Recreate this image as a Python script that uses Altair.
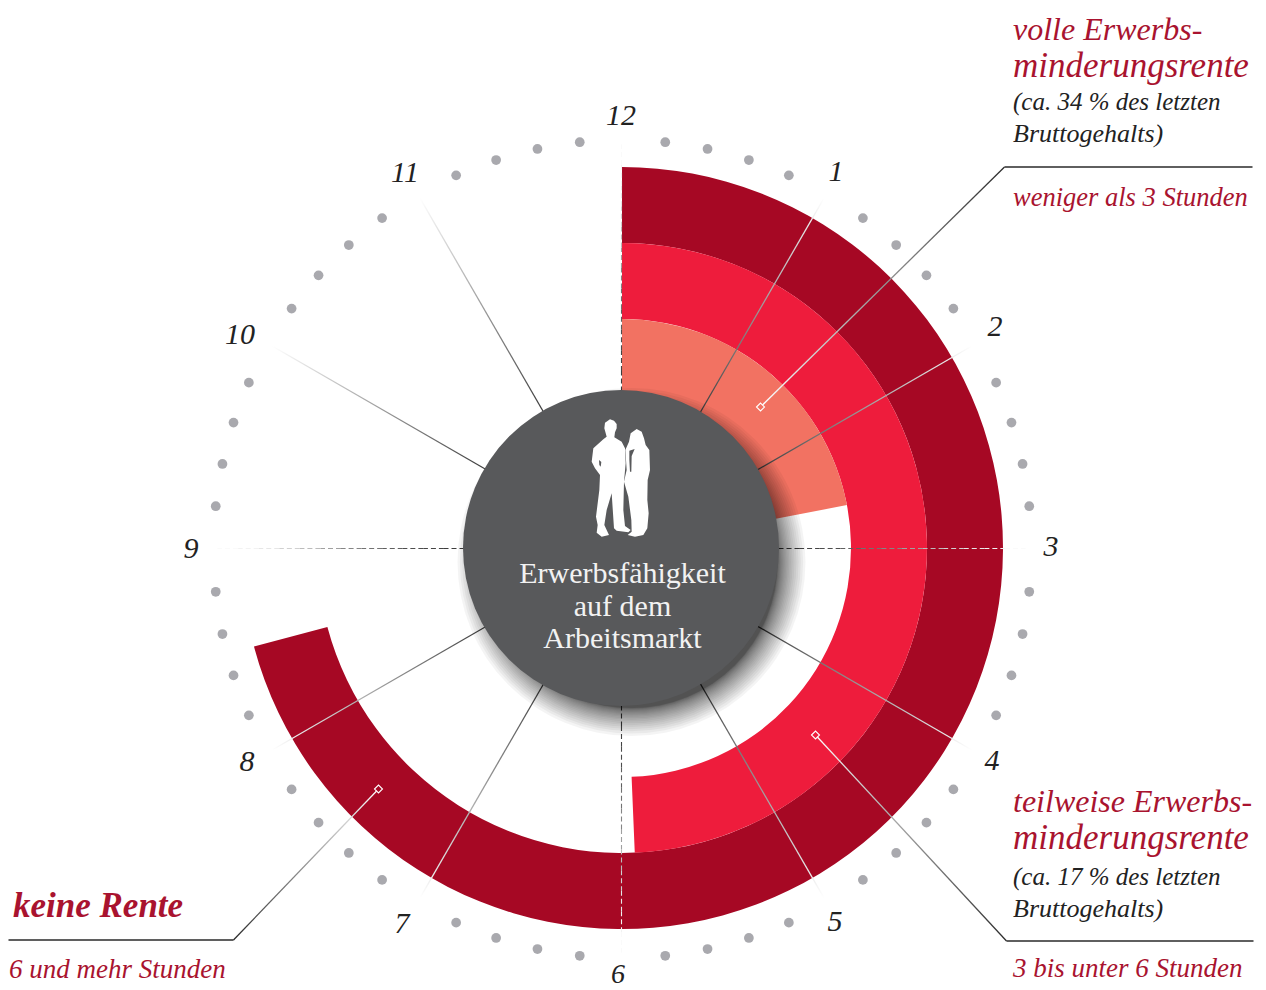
import math
import altair as alt
import pandas as pd

W, H = 1250, 982
CX, CY = 613.5, 540.0
xs = alt.Scale(domain=[-CX, W - CX], nice=False, zero=False)
ys = alt.Scale(domain=[-(H - CY), CY], nice=False, zero=False)
ts = alt.Scale(domain=[0, 12], range=[0, 2 * math.pi])
rs = alt.Scale(domain=[0, 500], range=[0, 500], nice=False)

FONT = "Liberation Serif"
DARK_RED, MID_RED, SALMON = "#a60824", "#ee1c3c", "#f27262"
HUB = "#58595b"
INK = "#222222"
TITLE_RED = "#a9132f"

# rings: hours worked on the dial
ring_end = [8.5, 5.92, 2.64]
ring_outer = [381, 305, 229]
ring_inner = [305, 229, 150]
ring_color = [DARK_RED, MID_RED, SALMON]

hours = [12, 1, 2, 3, 4, 5, 6, 7, 8, 9, 10, 11]
hour_page_x = [621, 836, 995, 1051, 992, 835, 618, 402, 247, 191, 240, 405]
hour_page_y = [116, 172, 327, 547, 761, 922, 975, 924, 762, 549, 335, 173]
hour_size = [30, 30, 30, 30, 30, 30, 28, 30, 30, 30, 30, 30]
minutes = [m for m in range(60) if m % 5]


def pol(hour, r):
    a = hour / 12 * 2 * math.pi
    return r * math.sin(a), r * math.cos(a)


def X(f="x"):
    return alt.X(f"{f}:Q", scale=xs, axis=None)


def Y(f="y"):
    return alt.Y(f"{f}:Q", scale=ys, axis=None)


layers = []

# rings
rings = pd.DataFrame({"s": [0] * 3, "e": ring_end, "r": ring_outer, "r2": ring_inner,
                      "c": ring_color, "x": [0.5] * 3, "y": [0] * 3})
layers.append(alt.Chart(rings).mark_arc(strokeWidth=0).encode(
    x=X(), y=Y(),
    theta=alt.Theta("s:Q", scale=ts, stack=None), theta2="e:Q",
    radius=alt.Radius("r:Q", scale=rs), radius2="r2:Q",
    color=alt.Color("c:N", scale=None)))

# dial dots
dot_xy = [pol(m / 5, 409) for m in minutes]
dots = pd.DataFrame({"x": [p[0] + 1 for p in dot_xy], "y": [p[1] - 1 for p in dot_xy]})
layers.append(alt.Chart(dots).mark_circle(size=95, color="#a9a9ae", opacity=1).encode(x=X(), y=Y()))

# diagonal spokes with a fade from dark to white
R0, R1 = 157, 404
for h in [1, 2, 4, 5, 7, 8, 10, 11]:
    ax, ay = pol(h, R0)
    bx, by = pol(h, R1)
    grad = alt.LinearGradient(
        gradient="linear",
        stops=[alt.GradientStop(color="#3c3c3c", offset=0), alt.GradientStop(color="#ffffff", offset=1)],
        x1=0 if bx > ax else 1, x2=1 if bx > ax else 0,
        y1=0 if by < ay else 1, y2=1 if by < ay else 0)
    df = pd.DataFrame({"x": [ax + .5], "y": [ay], "x2": [bx + .5], "y2": [by]})
    layers.append(alt.Chart(df).mark_rule(stroke=grad, strokeWidth=1.3).encode(
        x=X(), y=Y(), x2="x2:Q", y2="y2:Q"))

# dashed spokes on the quarter hours, in steps of fading grey
steps = ["#3c3c3c", "#444444", "#4d4d4d", "#5f5f5f", "#727272", "#858585",
         "#a0a0a0", "#bbbbbb", "#d0d0d0", "#e6e6e6", "#f2f2f2", "#fafafa"]
rows = []
for h in [3, 6, 9, 12]:
    for i, c in enumerate(steps):
        ax, ay = pol(h, R0 + (R1 - R0) * i / len(steps))
        bx, by = pol(h, R0 + (R1 - R0) * (i + 1) / len(steps))
        rows.append({"x": round(ax, 6), "y": round(ay, 6) - 0.5, "x2": round(bx, 6), "y2": round(by, 6) - 0.5, "c": c})
layers.append(alt.Chart(pd.DataFrame(rows)).mark_rule(strokeWidth=1.1, strokeDash=[5, 3]).encode(
    x=X(), y=Y(), x2="x2:Q", y2="y2:Q", color=alt.Color("c:N", scale=None)))

# hub shadow
shadow_r = [146 + 28 * (i / 23) ** 2 for i in range(24)]
shadow = pd.DataFrame({"s": [0] * 24, "e": [12] * 24, "r": shadow_r, "x": [10] * 24, "y": [-14] * 24})
layers.append(alt.Chart(shadow).mark_arc(color="#000000", opacity=0.042, strokeWidth=0).encode(
    x=X(), y=Y(),
    theta=alt.Theta("s:Q", scale=ts, stack=None), theta2="e:Q",
    radius=alt.Radius("r:Q", scale=rs)))

# hub
hub = pd.DataFrame({"s": [0], "e": [12], "r": [158], "x": [-0.5], "y": [0]})
layers.append(alt.Chart(hub).mark_arc(color=HUB, strokeWidth=0).encode(
    x=X(), y=Y(),
    theta=alt.Theta("s:Q", scale=ts, stack=None), theta2="e:Q",
    radius=alt.Radius("r:Q", scale=rs)))

# silhouettes (path units: a third of a pixel)
MAN = ("M150 58L162 62L170 72L170 85L165 97L163 112L185 125L195 145L197 190L192 245L190 330L195 378L212 390"
       "L205 397L170 392L162 385L155 280L140 330L133 375L147 405L125 410L110 398L113 375L108 350"
       "L118 270L120 225L105 205L95 185L100 145L130 118L140 110L133 85L135 68Z")
WOMAN = ("M230 87L245 95L252 115L257 135L268 150L270 210L263 240L262 300L266 340L262 385L250 405L225 410"
         "L203 405L215 395L214 360L205 290L192 245L200 210L196 150L207 125L212 100Z")
GAP = "M208 152L224 147L215 168L214 215L210 215L208 180Z"
NOTCH = "M117 180L124 186L122 200L118 195Z"
anchor = pd.DataFrame({"x": [-61.5], "y": [148]})
for path, col in [(MAN, "#ffffff"), (WOMAN, "#ffffff"), (GAP, HUB), (NOTCH, HUB)]:
    layers.append(alt.Chart(anchor).mark_point(
        shape=path, size=4 / 9, filled=True, fill=col, stroke=None, opacity=1).encode(x=X(), y=Y()))

# leader lines: page position minus centre, y up
leaders = [((139, 141), (383, 381), (631, 381)),
           ((194, -187), (385, -393), (632, -393)),
           ((-243, -241), (-388, -392), (-613, -392))]
for start, elbow, end in leaders:
    (ax, ay), (bx, by) = start, elbow
    grad = alt.LinearGradient(
        gradient="linear",
        stops=[alt.GradientStop(color="#ffffff", offset=0), alt.GradientStop(color="#2a2a2a", offset=1)],
        x1=0 if bx > ax else 1, x2=1 if bx > ax else 0,
        y1=0 if by < ay else 1, y2=1 if by < ay else 0)
    df = pd.DataFrame({"x": [ax], "y": [ay], "x2": [bx], "y2": [by]})
    layers.append(alt.Chart(df).mark_rule(stroke=grad, strokeWidth=1.3).encode(
        x=X(), y=Y(), x2="x2:Q", y2="y2:Q"))
    df = pd.DataFrame({"x": [bx], "y": [by], "x2": [end[0]], "y2": [end[1]]})
    layers.append(alt.Chart(df).mark_rule(color="#2a2a2a", strokeWidth=1.3).encode(
        x=X(), y=Y(), x2="x2:Q", y2="y2:Q"))

markers = pd.DataFrame({"x": [l[0][0] for l in leaders], "y": [l[0][1] for l in leaders],
                        "c": [SALMON, MID_RED, DARK_RED]})
layers.append(alt.Chart(markers).mark_point(
    shape="diamond", size=64, stroke="#ffffff", strokeWidth=1.1, filled=True, opacity=1).encode(
    x=X(), y=Y(), fill=alt.Fill("c:N", scale=None)))

# hour labels
for sz in sorted(set(hour_size)):
    idx = [i for i, s in enumerate(hour_size) if s == sz]
    hl = pd.DataFrame({"t": [str(hours[i]) for i in idx],
                       "x": [hour_page_x[i] - 8 - CX for i in idx],
                       "y": [CY - (hour_page_y[i] - 8) for i in idx]})
    layers.append(alt.Chart(hl).mark_text(
        font=FONT, fontStyle="italic", fontSize=sz, color=INK, align="center", baseline="middle").encode(
        x=X(), y=Y(), text="t:N"))

# hub caption
cap_lines = ["Erwerbsfähigkeit", "auf dem", "Arbeitsmarkt"]
cap = pd.DataFrame({"t": cap_lines, "x": [1, 1, 1], "y": [-35, -68, -100]})
layers.append(alt.Chart(cap).mark_text(
    font=FONT, fontSize=30, color="#f2f2f2", align="center", baseline="alphabetic").encode(
    x=X(), y=Y(), text="t:N"))

# annotation text: (text, page x, page baseline, size, colour, weight)
notes = [
    ("volle Erwerbs-", 1013, 40, 32, TITLE_RED, "normal"),
    ("minderungsrente", 1013, 77, 35, TITLE_RED, "normal"),
    ("(ca. 34 % des letzten", 1013, 110, 25, INK, "normal"),
    ("Bruttogehalts)", 1013, 142, 26, INK, "normal"),
    ("weniger als 3 Stunden", 1013, 206, 26.5, TITLE_RED, "normal"),
    ("teilweise Erwerbs-", 1013, 812, 32, TITLE_RED, "normal"),
    ("minderungsrente", 1013, 849, 35, TITLE_RED, "normal"),
    ("(ca. 17 % des letzten", 1013, 885, 25, INK, "normal"),
    ("Bruttogehalts)", 1013, 917, 26, INK, "normal"),
    ("3 bis unter 6 Stunden", 1013, 977, 27, TITLE_RED, "normal"),
    ("keine Rente", 13, 917, 35, TITLE_RED, "bold"),
    ("6 und mehr Stunden", 9, 978, 27, TITLE_RED, "normal"),
]
for sz, wt in sorted({(n[3], n[5]) for n in notes}):
    sub = [n for n in notes if n[3] == sz and n[5] == wt]
    df = pd.DataFrame({"t": [n[0] for n in sub],
                       "x": [n[1] - 8 - CX for n in sub],
                       "y": [CY - (n[2] - 8) for n in sub],
                       "c": [n[4] for n in sub]})
    layers.append(alt.Chart(df).mark_text(
        font=FONT, fontStyle="italic", fontWeight=wt, fontSize=sz, align="left", baseline="alphabetic").encode(
        x=X(), y=Y(), text="t:N", color=alt.Color("c:N", scale=None)))

chart = alt.layer(*layers).properties(
    width=W, height=H, padding=0, autosize=alt.AutoSizeParams(type="none"),
    background="#ffffff"
).configure_view(stroke=None)

chart.save("out.html", embed_options={"renderer": "svg", "actions": False})
